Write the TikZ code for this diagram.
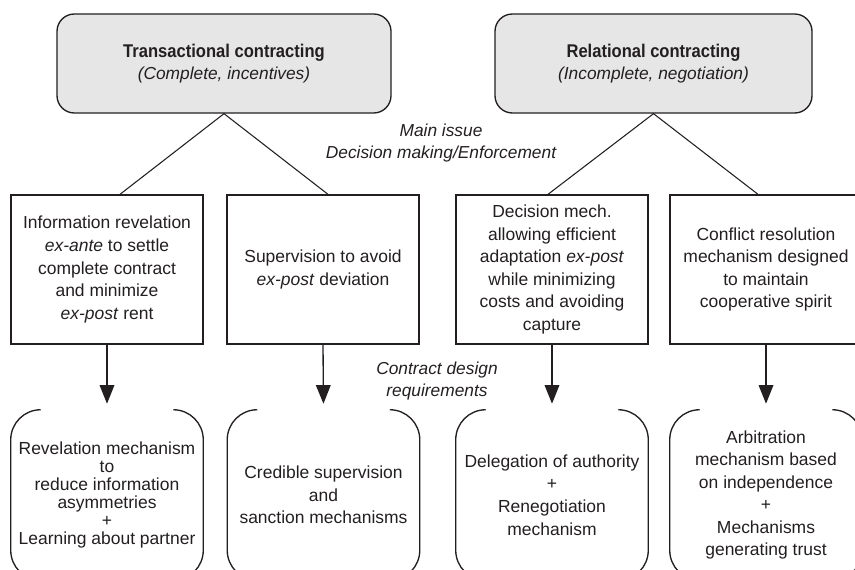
\documentclass[tikz,border=0pt]{standalone}
\usepackage{fontspec}
\setmainfont{Liberation Sans}
\newfontfamily\titlefont{Liberation Sans}[FakeStretch=0.9]
\usetikzlibrary{arrows.meta,calc}
\definecolor{boxgray}{RGB}{230,230,230}
\definecolor{ink}{RGB}{35,31,32}
\begin{document}
\begin{tikzpicture}[x=0.75pt,y=-0.75pt,
 txt/.style={font=\fontsize{13.1}{16.9}\selectfont, align=center, text=ink},
 topbox/.style={draw=ink, line width=1pt, fill=boxgray, rounded corners=13pt, minimum height=74.25pt, inner sep=0pt, align=center, text=ink, font=\fontsize{13}{16.5}\selectfont},
 midbox/.style={txt, draw=ink, line width=1pt, minimum width=144pt, minimum height=111.75pt, inner sep=0pt},
 botbox/.style={txt, minimum width=144pt, minimum height=127.5pt, inner sep=0pt},
 link/.style={draw=ink, line width=0.8pt},
 arr/.style={draw=ink, line width=1pt, -{Triangle[length=14pt,width=11pt]}, shorten >=4.5pt},
 bracket/.style={draw=ink, line width=1pt, rounded corners=22.5pt},
 note/.style={txt, font=\fontsize{13}{16.9}\selectfont\itshape}
]
\useasboundingbox (0,0) rectangle (855,570);

% top boxes
\node[topbox, minimum width=250.5pt] (tc) at (224,63.5)
  {{\titlefont\bfseries\fontsize{13.8}{16.5}\selectfont Transactional contracting}\\ \textit{(Complete, incentives)}};
\node[topbox, minimum width=237.75pt] (rc) at (653.5,63.5)
  {{\titlefont\bfseries\fontsize{13.8}{16.5}\selectfont Relational contracting}\\ \textit{(Incomplete, negotiation)}};

% middle boxes
\node[midbox] (m1) at (107,269.5) {Information revelation\\ \textit{ex-ante} to settle\\ complete contract\\ and minimize\\ \textit{ex-post} rent};
\node[midbox] (m2) at (323,269.5) {Supervision to avoid\\ \textit{ex-post} deviation};
\node[midbox] (m3) at (552,269.5) {Decision mech.\\ allowing efficient\\ adaptation \textit{ex-post}\\ while minimizing\\ costs and avoiding\\ capture};
\node[midbox] (m4) at (766,269.5) {Conflict resolution\\ mechanism designed\\ to maintain\\ cooperative spirit};

% bottom boxes
\node[botbox, font=\fontsize{13.1}{13.4}\selectfont] (b1) at (107,495) {Revelation mechanism\\ to\\ reduce information\\ asymmetries\\ +\\ Learning about partner};
\node[botbox] (b2) at (323.5,495) {Credible supervision\\ and\\ sanction mechanisms};
\node[botbox] (b3) at (552,495) {Delegation of authority\\ +\\ Renegotiation\\ mechanism};
\node[botbox] (b4) at (766,495) {Arbitration\\ mechanism based\\ on independence\\ +\\ Mechanisms\\ generating trust};

\foreach \b in {b1,b2,b3,b4}{
  \draw[bracket] ($(\b.north west)+(30,0)$) -- (\b.north west) -- (\b.south west) -- ($(\b.south west)+(30,0)$);
  \draw[bracket] ($(\b.north east)+(-30,0)$) -- (\b.north east) -- (\b.south east) -- ($(\b.south east)+(-30,0)$);
}

% tree links
\draw[link] ($(m1.north)+(13,0)$) -- (tc.south) -- ($(m2.north)+(5,0)$);
\draw[link] ($(m3.north)+(-4,0)$) -- (rc.south) -- ($(m4.north)+(-8,0)$);

% arrows
\draw[arr] (m1.south) -- (b1.north);
\draw[arr] (m2.south) -- (b2.north);
\draw[arr] (m3.south) -- (b3.north);
\draw[arr] (m4.south) -- (b4.north);

% notes
\node[note] (mi) at (441,143) {Main issue\\ Decision making/Enforcement};
\node[note] (cd) at (437,381) {Contract design\\ requirements};
\end{tikzpicture}
\end{document}
